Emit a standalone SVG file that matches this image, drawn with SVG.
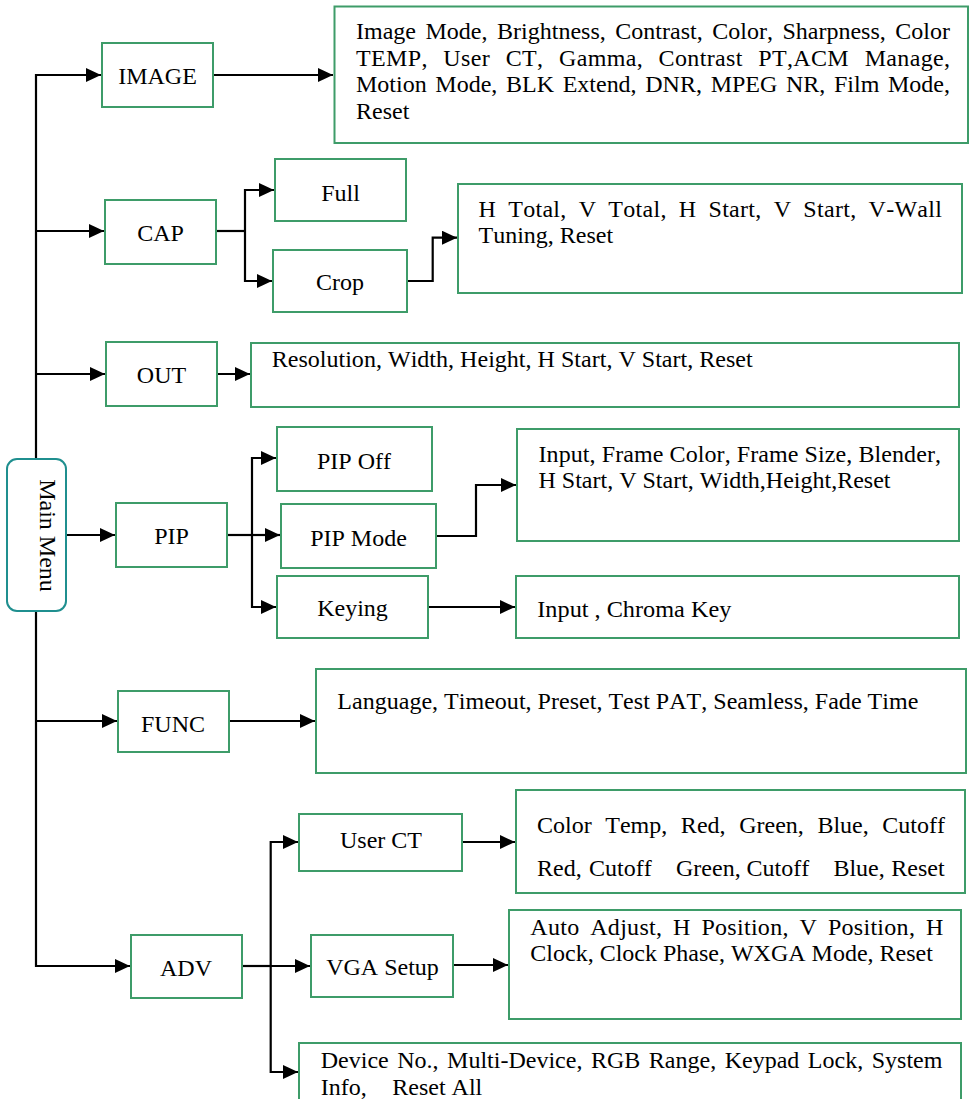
<svg xmlns="http://www.w3.org/2000/svg" width="974" height="1099" viewBox="0 0 974 1099">
<defs>
<marker id="ah" markerUnits="userSpaceOnUse" markerWidth="16" markerHeight="15" refX="15" refY="7" orient="auto">
<path d="M0,0 L15,7 L0,14 z" fill="#000"/>
</marker>
<style>
.box{fill:#fff;stroke:#3e9c69;stroke-width:2}
.mm{fill:#fff;stroke:#1f8f8f;stroke-width:2}
.c{fill:none;stroke:#000;stroke-width:2.2}
.a{marker-end:url(#ah)}
text{font-family:"Liberation Serif","Times New Roman",serif;font-size:24px;fill:#000;font-kerning:none}
.m{text-anchor:middle}
</style>
</defs>
<rect width="974" height="1099" fill="#fff"/>
<g id="connectors">
<path class="c a" d="M36,459 V75 H101"/>
<path class="c a" d="M36,231 H104"/>
<path class="c a" d="M36,374 H105"/>
<path class="c a" d="M36,721 H117"/>
<path class="c a" d="M36,611 V966 H130"/>
<path class="c a" d="M66,535 H115"/>
<path class="c a" d="M213,75 H333"/>
<path class="c" d="M216,231 H245"/>
<path class="c a" d="M245,231 V190 H274"/>
<path class="c a" d="M245,231 V281 H272"/>
<path class="c a" d="M407,281 H432.7 V237.7 H457"/>
<path class="c a" d="M217,374 H250"/>
<path class="c" d="M227,535 H252"/>
<path class="c a" d="M252,535 V458 H276"/>
<path class="c a" d="M252,535 H280"/>
<path class="c a" d="M252,535 V607 H276"/>
<path class="c a" d="M436,536 H476 V485 H516"/>
<path class="c a" d="M428,607 H515"/>
<path class="c a" d="M229,721 H315"/>
<path class="c" d="M242,966 H270.7"/>
<path class="c a" d="M270.7,966 V842 H298"/>
<path class="c a" d="M270.7,966 H310"/>
<path class="c a" d="M270.7,966 V1072 H298"/>
<path class="c a" d="M462,842 H515"/>
<path class="c a" d="M453,965 H508"/>
</g>
<g id="main-menu">
<rect class="mm" x="7" y="459" width="59" height="152" rx="10"/>
<text class="m" transform="translate(40,535.5) rotate(90)">Main Menu</text>
</g>
<g id="image">
<rect class="box" x="102" y="43" width="111" height="64"/>
<text class="m" x="157.5" y="84">IMAGE</text>
</g>
<g id="image-items">
<rect class="box" x="334.5" y="6.5" width="633.5" height="136.5"/>
<text x="356" y="39" word-spacing="3.56" textLength="594" lengthAdjust="spacing">Image Mode, Brightness, Contrast, Color, Sharpness, Color</text>
<text x="356" y="65.7" word-spacing="9.24" textLength="594" lengthAdjust="spacing">TEMP, User CT, Gamma, Contrast PT,ACM Manage,</text>
<text x="356" y="92.3" word-spacing="2.66" textLength="594" lengthAdjust="spacing">Motion Mode, BLK Extend, DNR, MPEG NR, Film Mode,</text>
<text x="356" y="119">Reset</text>
</g>
<g id="cap">
<rect class="box" x="105" y="200" width="111" height="64"/>
<text class="m" x="160.5" y="240.5">CAP</text>
</g>
<g id="full">
<rect class="box" x="275" y="159" width="131" height="62"/>
<text class="m" x="340.5" y="201">Full</text>
</g>
<g id="crop">
<rect class="box" x="273" y="250" width="134" height="62"/>
<text class="m" x="340" y="290">Crop</text>
</g>
<g id="crop-items">
<rect class="box" x="458" y="184" width="504" height="109"/>
<text x="478.5" y="216.5" word-spacing="5.8" textLength="463.4" lengthAdjust="spacing">H Total, V Total, H Start, V Start, V-Wall</text>
<text x="478.5" y="242.5">Tuning, Reset</text>
</g>
<g id="out">
<rect class="box" x="106" y="342" width="111" height="64"/>
<text class="m" x="161.5" y="383">OUT</text>
</g>
<g id="out-items">
<rect class="box" x="251" y="343" width="708" height="64"/>
<text x="271.7" y="366.7" textLength="481" lengthAdjust="spacingAndGlyphs">Resolution, Width, Height, H Start, V Start, Reset</text>
</g>
<g id="pip">
<rect class="box" x="116" y="503" width="111" height="64"/>
<text class="m" x="171.5" y="544">PIP</text>
</g>
<g id="pip-off">
<rect class="box" x="277" y="427" width="155" height="64"/>
<text class="m" x="354" y="469">PIP Off</text>
</g>
<g id="pip-mode">
<rect class="box" x="281" y="504" width="155" height="64"/>
<text class="m" x="358.5" y="546">PIP Mode</text>
</g>
<g id="keying">
<rect class="box" x="277" y="576" width="151" height="62"/>
<text class="m" x="352.5" y="616">Keying</text>
</g>
<g id="pip-mode-items">
<rect class="box" x="517" y="429" width="442" height="112"/>
<text x="538.5" y="461.7" textLength="402.5" lengthAdjust="spacing">Input, Frame Color, Frame Size, Blender,</text>
<text x="538.5" y="488.3" textLength="352" lengthAdjust="spacingAndGlyphs">H Start, V Start, Width,Height,Reset</text>
</g>
<g id="keying-items">
<rect class="box" x="516" y="576" width="443" height="62"/>
<text x="537.3" y="616.7" textLength="194" lengthAdjust="spacingAndGlyphs">Input , Chroma Key</text>
</g>
<g id="func">
<rect class="box" x="118" y="691" width="111" height="61"/>
<text class="m" x="173" y="732">FUNC</text>
</g>
<g id="func-items">
<rect class="box" x="316" y="669" width="650" height="104"/>
<text x="337.3" y="709.3" textLength="581" lengthAdjust="spacing">Language, Timeout, Preset, Test PAT, Seamless, Fade Time</text>
</g>
<g id="adv">
<rect class="box" x="131" y="935" width="111" height="63"/>
<text class="m" x="186" y="976">ADV</text>
</g>
<g id="user-ct">
<rect class="box" x="299" y="814" width="163" height="57"/>
<text class="m" x="381" y="848">User CT</text>
</g>
<g id="user-ct-items">
<rect class="box" x="516" y="790" width="449" height="103"/>
<text x="537" y="832.7" word-spacing="7.6" textLength="408" lengthAdjust="spacing">Color Temp, Red, Green, Blue, Cutoff</text>
<text y="876"><tspan x="537">Red,</tspan><tspan x="589">Cutoff</tspan><tspan x="676">Green,</tspan><tspan x="746.5">Cutoff</tspan><tspan x="833.4">Blue,</tspan><tspan x="891.3">Reset</tspan></text>
</g>
<g id="vga-setup">
<rect class="box" x="311" y="935" width="142" height="62"/>
<text class="m" x="382.5" y="975">VGA Setup</text>
</g>
<g id="vga-items">
<rect class="box" x="509" y="910" width="452" height="109"/>
<text x="530.3" y="935" word-spacing="4.5" textLength="413" lengthAdjust="spacing">Auto Adjust, H Position, V Position, H</text>
<text x="530.3" y="961">Clock, Clock Phase, WXGA Mode, Reset</text>
</g>
<g id="system-items">
<rect class="box" x="299" y="1043" width="662" height="70"/>
<text x="320.7" y="1068.3" word-spacing="2.5" textLength="621.7" lengthAdjust="spacing">Device No., Multi-Device, RGB Range, Keypad Lock, System</text>
<text y="1095"><tspan x="320.7">Info,</tspan><tspan x="392.3">Reset All</tspan></text>
</g>
</svg>
